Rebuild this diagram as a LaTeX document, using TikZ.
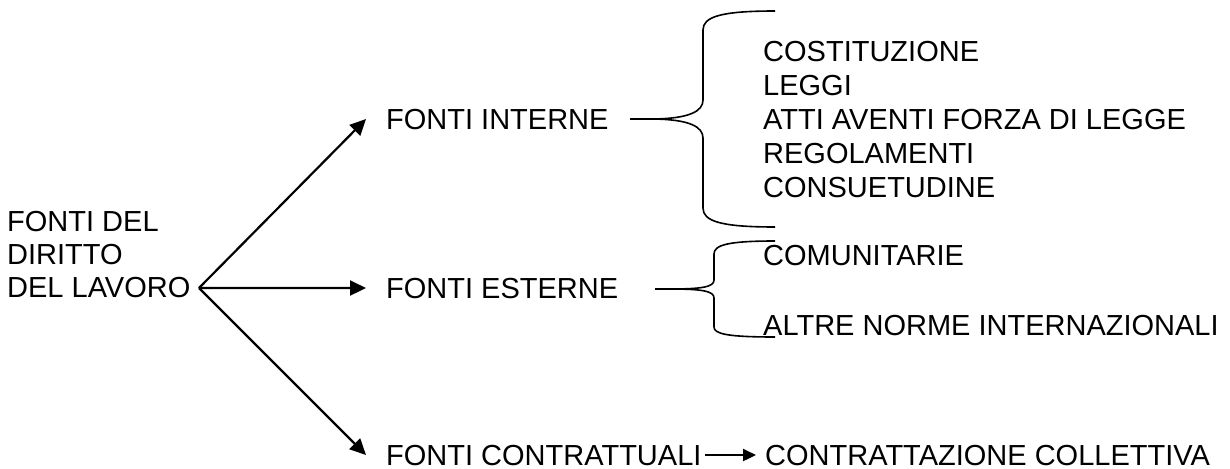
\documentclass[tikz,border=0pt]{standalone}
\usepackage{fontspec}
\setmainfont{Liberation Sans}
\usetikzlibrary{arrows.meta,calc}
\begin{document}
\begin{tikzpicture}[x=1pt,y=-1pt,
  lbl/.style={anchor=base west,inner sep=0pt,font=\fontsize{29}{33}\selectfont},
  arr/.style={line width=2.2pt,-{Triangle[length=16pt,width=15pt]}},
  smallarr/.style={line width=2.2pt,-{Triangle[length=13pt,width=12pt]}},
  brace/.style={line width=1.6pt}]
\useasboundingbox (0,0) rectangle (1230,468);

% root of the tree (anchored on the baseline of its last line)
\node[lbl,align=left] (src) at (7,297.5) {FONTI DEL\\DIRITTO\\DEL LAVORO};
\coordinate (hub) at (199,288);

% three kinds of sources
\node[lbl] (fi) at (386,129) {FONTI INTERNE};
\node[lbl] (fe) at (386,298) {FONTI ESTERNE};
\node[lbl] (fc) at (386,465) {FONTI CONTRATTUALI};

\draw[arr] (hub) -- ($(fi.west)+(-20,0)$);
\draw[arr] (hub) -- ($(fe.west)+(-20,0)$);
\draw[arr] (hub) -- ($(fc.west)+(-20,0)$);

% internal sources
\node[lbl] (i1) at (763,62)     {COSTITUZIONE};
\node[lbl] (i2) at (763,95.75)  {LEGGI};
\node[lbl] (i3) at (763,129.5)  {ATTI AVENTI FORZA DI LEGGE};
\node[lbl] (i4) at (763,163.25) {REGOLAMENTI};
\node[lbl] (i5) at (763,197)    {CONSUETUDINE};

\draw[brace] (630,119) -- (650,119) .. controls (690,119) and (703,111) .. (703,100)
  -- (703,30) .. controls (703,17) and (720,11) .. (775,11);
\draw[brace] (650,119) .. controls (690,119) and (703,127) .. (703,138)
  -- (703,208) .. controls (703,221) and (720,227) .. (775,227);

% external sources
\node[lbl] (e1) at (763,265) {COMUNITARIE};
\node[lbl] (e2) at (763,335) {ALTRE NORME INTERNAZIONALI};

\draw[brace] (655,289) -- (670,289) .. controls (702,289) and (714,287) .. (714,280)
  -- (714,254) .. controls (714,245) and (728,241) .. (775,241);
\draw[brace] (670,289) .. controls (702,289) and (714,291) .. (714,298)
  -- (714,327) .. controls (714,334) and (728,337) .. (775,337);

% contractual sources
\node[lbl] (cc) at (765,465) {CONTRATTAZIONE COLLETTIVA};
\draw[smallarr] ($(fc.east)+(3,0)$) -- ($(cc.west)+(-9,0)$);
\end{tikzpicture}
\end{document}
